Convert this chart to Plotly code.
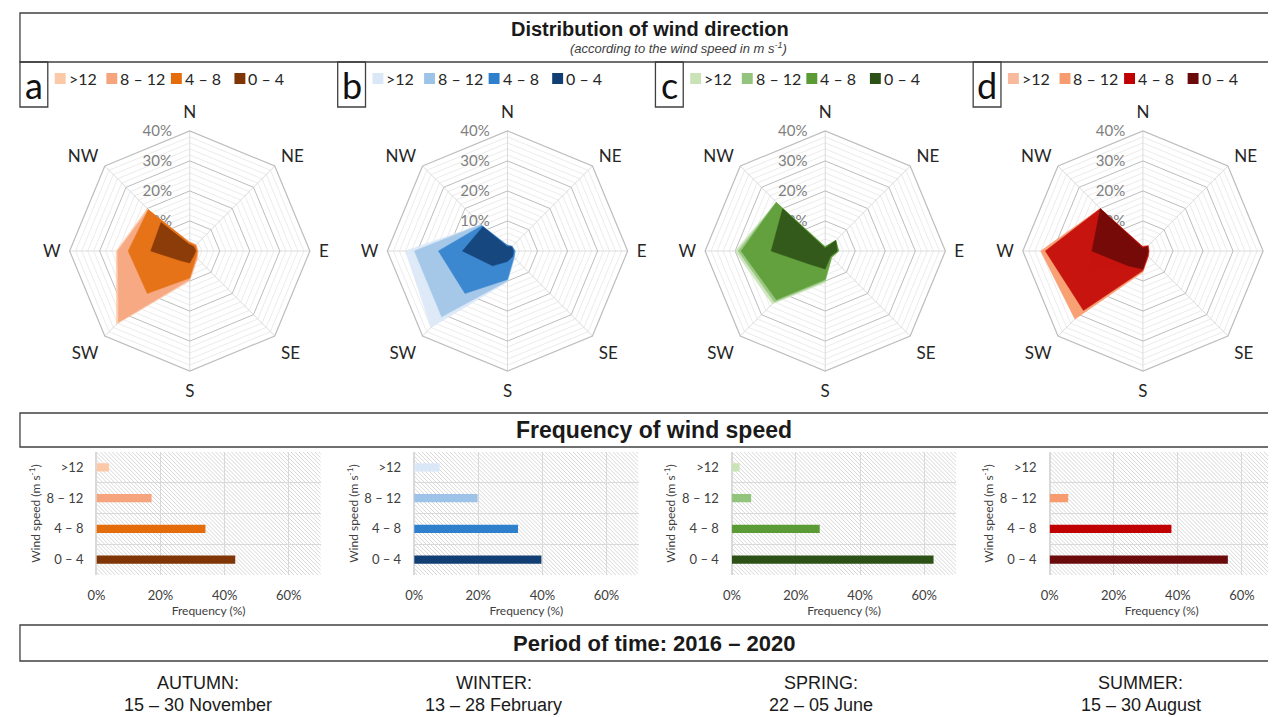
import base64
import plotly.graph_objects as go

W, H = 1276, 717
OFF = 8  # the page body adds an 8px margin
FW, FH = W - OFF, H - OFF
CAL = 'Lato, Carlito, Calibri, sans-serif'
ARIAL = 'Liberation Sans, Arial, sans-serif'

directions = ['N', 'NE', 'E', 'SE', 'S', 'SW', 'W', 'NW']
speed_classes = ['>12', '8 – 12', '4 – 8', '0 – 4']

# radar: frequency (%) per direction, as drawn (outer class first)
autumn_gt12 = [3.0, 3.0, 2.8, 3.6, 10.0, 34.5, 24.5, 20.0]
autumn_8_12 = [3.0, 3.0, 2.7, 3.5, 9.5, 33.5, 24.0, 19.5]
autumn_4_8 = [2.8, 2.7, 2.5, 3.0, 9.0, 20.0, 20.5, 19.5]
autumn_0_4 = [2.2, 2.0, 2.0, 2.0, 4.0, 4.5, 13.0, 13.5]

winter_gt12 = [2.0, 2.3, 2.7, 3.3, 10.3, 36.0, 34.0, 12.5]
winter_8_12 = [2.0, 2.2, 2.6, 3.2, 10.0, 31.0, 31.0, 12.5]
winter_4_8 = [2.0, 2.2, 2.5, 3.0, 9.5, 20.0, 23.0, 12.0]
winter_0_4 = [1.5, 2.0, 2.0, 2.5, 3.5, 7.0, 15.0, 11.5]

spring_gt12 = [1.5, 5.0, 4.5, 3.0, 10.5, 25.0, 30.0, 23.0]
spring_8_12 = [1.5, 5.0, 4.5, 3.0, 10.0, 24.0, 29.0, 23.0]
spring_4_8 = [1.5, 5.0, 4.5, 3.0, 9.5, 23.0, 28.0, 23.0]
spring_0_4 = [1.0, 5.0, 4.0, 2.5, 6.0, 6.5, 18.0, 20.0]

summer_gt12 = [1.5, 2.5, 2.0, 2.5, 7.0, 32.0, 34.0, 20.0]
summer_8_12 = [1.5, 2.5, 2.0, 2.5, 7.0, 32.0, 34.0, 20.0]
summer_4_8 = [1.5, 2.5, 2.0, 2.5, 6.5, 28.0, 32.5, 20.0]
summer_0_4 = [1.0, 2.0, 1.7, 2.0, 6.0, 7.0, 17.0, 20.0]

# bars: frequency of wind speed (%), same class order
autumn_freq = [3.9, 17.2, 34.0, 43.3]
winter_freq = [7.9, 19.8, 32.4, 39.7]
spring_freq = [2.4, 6.0, 27.4, 62.9]
summer_freq = [0.0, 5.8, 38.0, 55.6]

autumn_colors = ['#fbc9a7', '#f6a47d', '#e46c0a', '#7f3506']
winter_colors = ['#dae7f6', '#9ec3e8', '#2e7fcc', '#123f73']
spring_colors = ['#c9e3b6', '#93c47d', '#5b9b35', '#2d5016']
summer_colors = ['#f9b99c', '#f79c6e', '#c00000', '#6b0a0a']

radar_ticks = [0, 10, 20, 30, 40]
bar_ticks = [0, 20, 40, 60]

panel_letters = ['a', 'b', 'c', 'd']
season_names = ['AUTUMN:', 'WINTER:', 'SPRING:', 'SUMMER:']
season_dates = ['15 – 30 November', '13 – 28 February', '22 – 05 June', '15 – 30 August']
season_x = [190, 488, 818, 1140]

seasons = [
    dict(radar=[autumn_gt12, autumn_8_12, autumn_4_8, autumn_0_4], freq=autumn_freq, colors=autumn_colors),
    dict(radar=[winter_gt12, winter_8_12, winter_4_8, winter_0_4], freq=winter_freq, colors=winter_colors),
    dict(radar=[spring_gt12, spring_8_12, spring_4_8, spring_0_4], freq=spring_freq, colors=spring_colors),
    dict(radar=[summer_gt12, summer_8_12, summer_4_8, summer_0_4], freq=summer_freq, colors=summer_colors),
]


# screen pixel -> paper coords
def px(x, y):
    return (x - OFF) / FW, 1 - (y - OFF) / FH


def hatch_uri(w, h):
    svg = (f"<svg xmlns='http://www.w3.org/2000/svg' width='{w}' height='{h}'>"
           "<defs><pattern id='p' width='4' height='4' patternUnits='userSpaceOnUse'>"
           "<path d='M0,0 L4,4 M-1,3 L1,5 M3,-1 L5,1' stroke='#d2d2d2' stroke-width='0.9'/>"
           "</pattern></defs><rect width='100%' height='100%' fill='url(#p)'/></svg>")
    return 'data:image/svg+xml;base64,' + base64.b64encode(svg.encode()).decode()


def text(txt, x, y, size, family=CAL, color='#1a1a1a', xanchor='center'):
    ax_, ay_ = px(x, y)
    return dict(text=txt, x=ax_, y=ay_, xref='paper', yref='paper', showarrow=False,
                xanchor=xanchor, yanchor='middle', font=dict(family=family, size=size, color=color))


def rect(x0, y0, x1, y1, **kw):
    a0, b0 = px(x0, y1)
    a1, b1 = px(x1, y0)
    return dict(type='rect', xref='paper', yref='paper', x0=a0, y0=b0, x1=a1, y1=b1, **kw)


fig = go.Figure()
layout = dict(shapes=[], annotations=[], images=[])
lefts = [11, 331, 651, 971]
R, CY = 121, 251
BAR_Y0, BAR_Y1 = 452, 575
line_col = '#404040'

for i, (s, L) in enumerate(zip(seasons, lefts)):
    cx = L + 171
    a0, b0 = px(cx - R, CY + R)
    a1, b1 = px(cx + R, CY - R)
    dom = dict(x=[a0, a1], y=[b0, b1])
    minor_name = f'polar{2 * i + 1}' if i > 0 else 'polar'
    major_name = f'polar{2 * i + 2}'

    # minor grid (every 2%)
    fig.add_trace(go.Scatterpolar(r=[0] * 8, theta=directions, subplot=minor_name, mode='lines',
                                  line=dict(width=0), opacity=0, showlegend=False, hoverinfo='skip'))
    layout[minor_name] = dict(
        domain=dom, bgcolor='white', gridshape='linear',
        angularaxis=dict(direction='clockwise', rotation=90, categoryorder='array', categoryarray=directions,
                         showticklabels=False, showgrid=False, showline=False, ticks=''),
        radialaxis=dict(range=[0, 40], tickvals=[v for v in range(2, 40, 2) if v % 10],
                        showticklabels=False, showline=False, ticks='', gridcolor='#ececec', gridwidth=1),
    )

    for vals, name, col in zip(s['radar'], speed_classes, s['colors']):
        fig.add_trace(go.Scatterpolar(r=vals, theta=directions, subplot=major_name, name=name,
                                      mode='lines', fill='toself', fillcolor=col, line=dict(width=0.5, color=col),
                                      opacity=0.88, showlegend=False))
    layout[major_name] = dict(
        domain=dom, bgcolor='rgba(0,0,0,0)', gridshape='linear',
        angularaxis=dict(direction='clockwise', rotation=90, categoryorder='array', categoryarray=directions,
                         tickfont=dict(family=CAL, size=17, color='#262626'), showline=True,
                         ticks='outside', ticklen=5, tickcolor='rgba(0,0,0,0)',
                         linecolor='#bdbdbd', linewidth=1.2, gridcolor='#dcdcdc', layer='below traces'),
        radialaxis=dict(range=[0, 40], tickvals=radar_ticks, ticktext=[f'{v}%' for v in radar_ticks],
                        angle=90, side='counterclockwise', tickangle=90, showline=False,
                        ticks='outside', ticklen=12, tickcolor='rgba(0,0,0,0)',
                        gridcolor='#bdbdbd', gridwidth=1.2, layer='below traces',
                        tickfont=dict(family=CAL, size=15, color='#808080')),
    )

    # bars
    xa = 'x' if i == 0 else f'x{i + 1}'
    ya = 'y' if i == 0 else f'y{i + 1}'
    fig.add_trace(go.Bar(x=s['freq'], y=speed_classes, orientation='h', xaxis=xa, yaxis=ya,
                         marker=dict(color=s['colors'], line=dict(width=0)), width=0.27, showlegend=False))
    bx0, bx1 = L + 77, L + 303
    a0, b0 = px(bx0, BAR_Y1)
    a1, b1 = px(bx1, BAR_Y0)
    layout['xaxis' if i == 0 else f'xaxis{i + 1}'] = dict(
        domain=[a0, a1], anchor=ya, range=[0, 70], tickvals=bar_ticks, ticktext=[f'{v}%' for v in bar_ticks],
        showgrid=True, gridcolor='#d9d9d9', zeroline=True, zerolinecolor='#d9d9d9', showline=False,
        tickfont=dict(family=CAL, size=13, color='#404040'), ticklabelstandoff=11,
        title=dict(text='Frequency (%)', font=dict(family=CAL, size=12, color='#404040'), standoff=0),
    )
    layout['yaxis' if i == 0 else f'yaxis{i + 1}'] = dict(
        domain=[b0, b1], anchor=xa, type='category',
        categoryorder='array', categoryarray=speed_classes[::-1], range=[-0.5, 3.5],
        tickson='boundaries', showgrid=True, gridcolor='#d9d9d9', ticks='', showline=False,
        tickfont=dict(family=CAL, size=13, color='#404040'), ticklabelstandoff=12,
        title=dict(text='Wind speed (m s<sup>-1</sup>)', font=dict(family=CAL, size=12, color='#404040'),
                   standoff=3),
    )
    layout['images'].append(dict(source=hatch_uri(bx1 - bx0, BAR_Y1 - BAR_Y0), xref='paper', yref='paper',
                                 x=a0, y=b1, sizex=a1 - a0, sizey=b1 - b0,
                                 sizing='stretch', xanchor='left', yanchor='top', layer='below'))

    # letter box + legend
    layout['shapes'].append(rect(L, 62, L + 28, 107, line=dict(color=line_col, width=1.3)))
    layout['annotations'].append(text(panel_letters[i], L + 14, 85, 36, color='#111'))
    for k, (name, col) in enumerate(zip(speed_classes, s['colors'])):
        sx = L + [35, 87, 152, 216][k]
        layout['shapes'].append(rect(sx, 73, sx + 11, 84, fillcolor=col, line=dict(width=0)))
        layout['annotations'].append(text(name, sx + 12, 79, 16, color='#262626', xanchor='left'))

    # season labels
    layout['annotations'].append(text(season_names[i], season_x[i], 683, 18, family=ARIAL))
    layout['annotations'].append(text(season_dates[i], season_x[i], 705, 18, family=ARIAL))

# frame bands
for ytop, ybot in ((13, 62), (413, 447), (625, 661)):
    layout['shapes'].append(rect(11, ytop, W + 20, ybot, line=dict(color=line_col, width=1.3)))

layout['annotations'] += [
    text('<b>Distribution of wind direction</b>', 646, 29, 20, family=ARIAL),
    text('<i>(according to the wind speed in m s<sup>-1</sup>)</i>', 674, 48, 13, family=ARIAL, color='#404040'),
    text('<b>Frequency of wind speed</b>', 650, 430, 23, family=ARIAL),
    text('<b>Period of time: 2016 – 2020</b>', 650, 643, 22, family=ARIAL),
]

fig.update_layout(
    width=FW, height=FH, margin=dict(l=0, r=0, t=0, b=0),
    paper_bgcolor='white', plot_bgcolor='rgba(0,0,0,0)',
    showlegend=False,
    **layout,
)
fig.write_html('out.html')
